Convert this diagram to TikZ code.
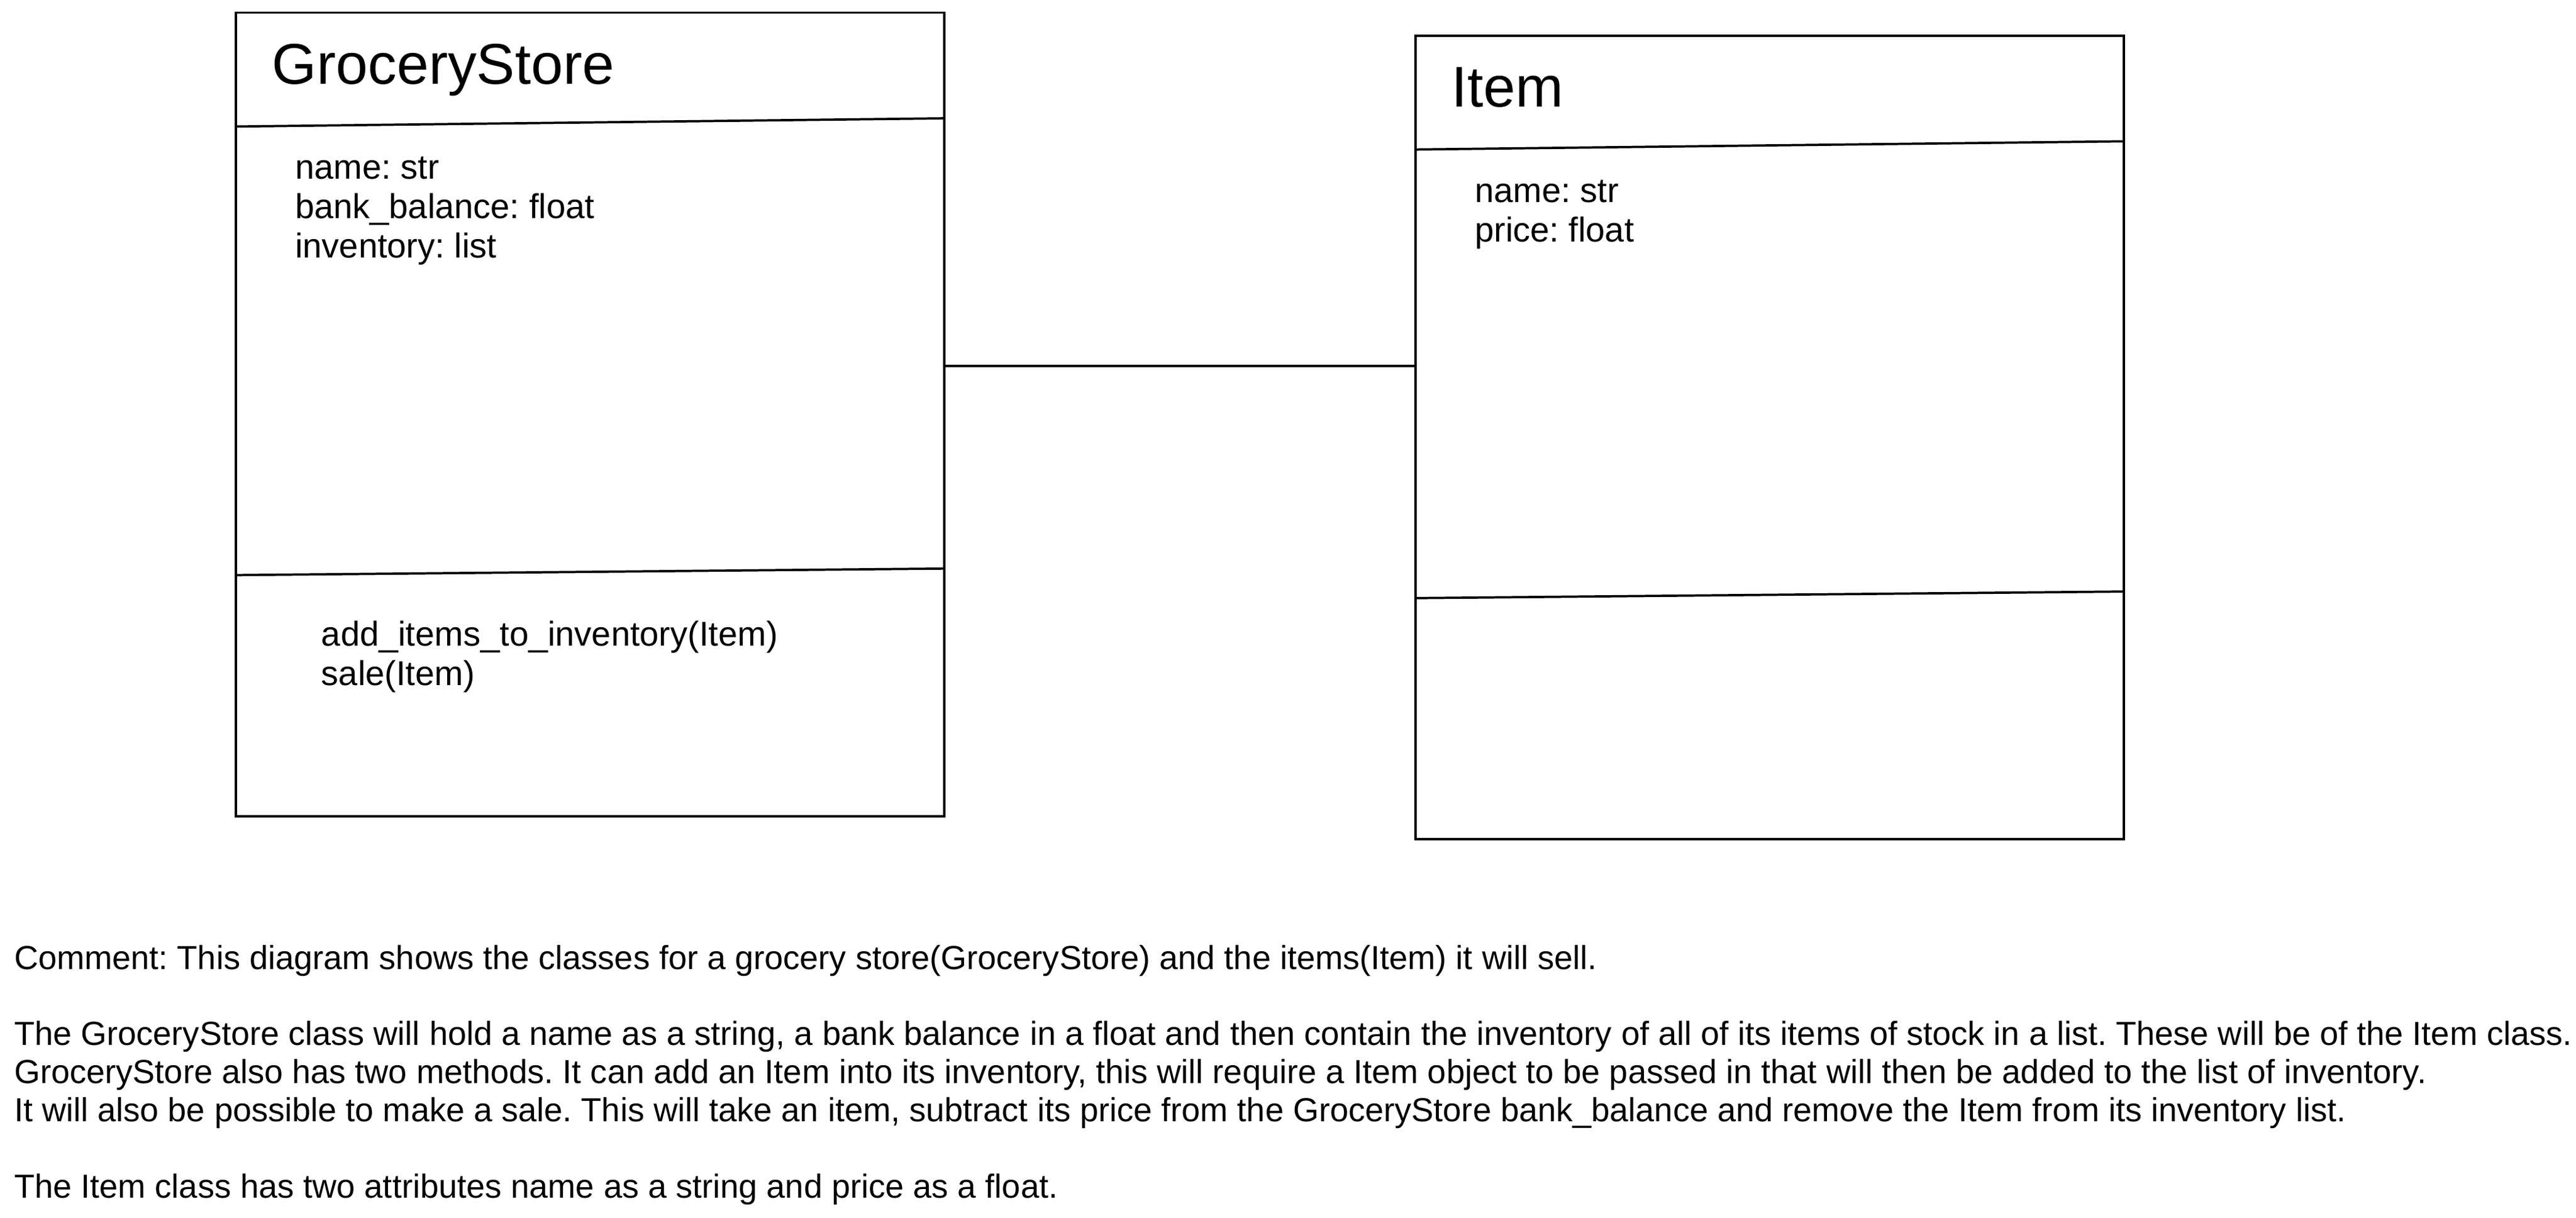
\documentclass[tikz,border=0pt]{standalone}
\usepackage{fontspec}
\setmainfont{Liberation Sans}
\frenchspacing
\usetikzlibrary{positioning}

\begin{document}
\begin{tikzpicture}[x=1pt, y=-1pt, line width=1.4pt,
    classbox/.style={draw, rectangle, anchor=north west, inner sep=0pt,
        minimum width=431pt, minimum height=489pt},
    classname/.style={anchor=base west, inner sep=0pt, font=\fontsize{35}{40}\selectfont},
    members/.style={anchor=base west, inner sep=0pt, align=left,
        font=\fontsize{21}{24}\selectfont},
    note/.style={anchor=base west, inner sep=0pt, align=left,
        font=\fontsize{20.3}{23.2}\selectfont}]

            \useasboundingbox (0,0) rectangle (1568,741);

            % Class boxes
            \node[classbox] (store) at (143,7) {};
            \node[classbox] (item) at (861,21) {};

            % Compartment lines
            \foreach \c in {store, item} {
                \draw ([yshift=-70pt]\c.north west) -- ([yshift=-65pt]\c.north east);
                \draw ([yshift=-343pt]\c.north west) -- ([yshift=-339pt]\c.north east);
            }

            % Names
            \node[classname] (storename) at ([xshift=22pt, yshift=-44pt]store.north west) {GroceryStore};
            \node[classname] (itemname) at ([xshift=22pt, yshift=-44pt]item.north west) {Item};

            % Attributes and methods (anchored on the last line)
            \node[members] (storeattr) at ([xshift=36pt, yshift=-150pt]store.north west)
                {name: str\\ bank\_balance: float\\ inventory: list};
            \node[members] (storeops) at ([xshift=52pt, yshift=-410pt]store.north west)
                {add\_items\_to\_inventory(Item)\\ sale(Item)};
            \node[members] (itemattr) at ([xshift=36pt, yshift=-126pt]item.north west)
                {name: str\\ price: float};

            % Association
            \coordinate (link) at ([yshift=29.5pt]store.east);
            \draw (link) -- (link -| item.west);

            % Comment
            \node[note] (comment) at (8,729) {Comment: This diagram shows the classes for a grocery store(GroceryStore) and the items(Item) it will sell.\\[23.2pt]
                The GroceryStore class will hold a name as a string, a bank balance in a float and then contain the inventory of all of its items of stock in a list. These will be of the Item class.\\
                GroceryStore also has two methods. It can add an Item into its inventory, this will require a Item object to be passed in that will then be added to the list of inventory.\\
                It will also be possible to make a sale. This will take an item, subtract its price from the GroceryStore bank\_balance and remove the Item from its inventory list.\\[23.2pt]
                The Item class has two attributes name as a string and price as a float.};

        \end{tikzpicture}
\end{document}
